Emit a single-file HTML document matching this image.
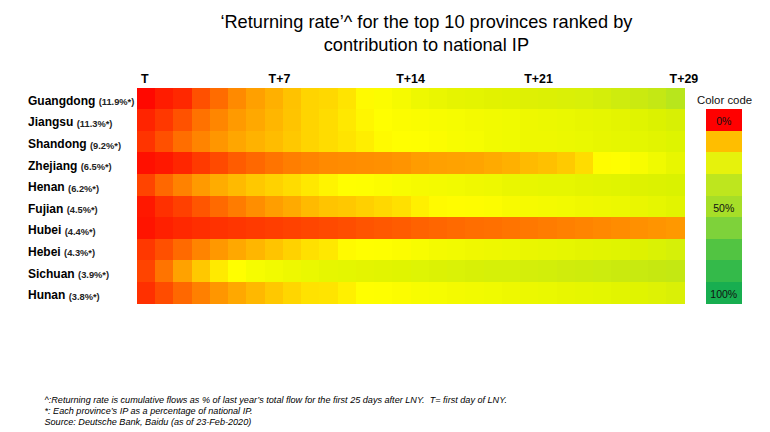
<!DOCTYPE html>
<html><head><meta charset="utf-8"><style>
html,body{margin:0;padding:0;background:#fff;}
body{width:770px;height:432px;position:relative;overflow:hidden;font-family:"Liberation Sans",Arial,sans-serif;}
.t{position:absolute;left:0;width:852px;text-align:center;font-size:18.2px;line-height:22.6px;color:#000;top:11px;padding-left:0.4px;}
.c{position:absolute;}
.lab{position:absolute;left:28px;height:21.58px;line-height:21.58px;font-size:12px;color:#000;white-space:nowrap;}
.lab b{font-weight:bold;}
.lab span{position:relative;top:0.5px;font-size:9.3px;font-weight:bold;color:#222;}
.lab sup{font-size:7px;vertical-align:2px;}
.hd{position:absolute;top:72.3px;font-size:12.4px;font-weight:bold;color:#000;}
.lg{position:absolute;left:706px;width:35.5px;height:21.98px;line-height:21.58px;text-align:center;font-size:10.5px;color:#111;padding-top:2px;box-sizing:border-box;}
.cc{position:absolute;left:697px;top:94px;font-size:11.4px;color:#111;}
.fn{position:absolute;left:44.5px;top:395.4px;font-size:9.1px;line-height:10.75px;font-style:italic;color:#000;white-space:nowrap;}
</style></head><body>
<div class="t">‘Returning rate’^ for the top 10 provinces ranked by<br>contribution to national IP</div>
<div class="hd" style="left:141px">T</div>
<div class="hd" style="left:268.6px">T+7</div>
<div class="hd" style="left:396.2px">T+14</div>
<div class="hd" style="left:524.2px">T+21</div>
<div class="hd" style="left:669.6px">T+29</div>
<div class="c" style="left:136.75px;top:87.60px;width:18.86px;height:22.18px;background:#FF0800"></div><div class="c" style="left:155.00px;top:87.60px;width:18.86px;height:22.18px;background:#FF1C00"></div><div class="c" style="left:173.26px;top:87.60px;width:18.86px;height:22.18px;background:#FF2800"></div><div class="c" style="left:191.51px;top:87.60px;width:18.86px;height:22.18px;background:#FF5000"></div><div class="c" style="left:209.77px;top:87.60px;width:18.86px;height:22.18px;background:#FF6C00"></div><div class="c" style="left:228.02px;top:87.60px;width:18.86px;height:22.18px;background:#FF8A00"></div><div class="c" style="left:246.28px;top:87.60px;width:18.86px;height:22.18px;background:#FFA000"></div><div class="c" style="left:264.53px;top:87.60px;width:18.86px;height:22.18px;background:#FFB000"></div><div class="c" style="left:282.79px;top:87.60px;width:18.86px;height:22.18px;background:#FFC200"></div><div class="c" style="left:301.04px;top:87.60px;width:18.86px;height:22.18px;background:#FFD400"></div><div class="c" style="left:319.30px;top:87.60px;width:18.86px;height:22.18px;background:#FFD800"></div><div class="c" style="left:337.55px;top:87.60px;width:18.86px;height:22.18px;background:#FFE400"></div><div class="c" style="left:355.81px;top:87.60px;width:18.86px;height:22.18px;background:#FFFA00"></div><div class="c" style="left:374.06px;top:87.60px;width:18.86px;height:22.18px;background:#FCFC00"></div><div class="c" style="left:392.32px;top:87.60px;width:18.86px;height:22.18px;background:#F6FA00"></div><div class="c" style="left:410.57px;top:87.60px;width:18.86px;height:22.18px;background:#EEF800"></div><div class="c" style="left:428.83px;top:87.60px;width:18.86px;height:22.18px;background:#EAF600"></div><div class="c" style="left:447.08px;top:87.60px;width:18.86px;height:22.18px;background:#E6F400"></div><div class="c" style="left:465.34px;top:87.60px;width:18.86px;height:22.18px;background:#E4F400"></div><div class="c" style="left:483.59px;top:87.60px;width:18.86px;height:22.18px;background:#E2F200"></div><div class="c" style="left:501.85px;top:87.60px;width:18.86px;height:22.18px;background:#E0F200"></div><div class="c" style="left:520.11px;top:87.60px;width:18.86px;height:22.18px;background:#DEF004"></div><div class="c" style="left:538.36px;top:87.60px;width:18.86px;height:22.18px;background:#DCF004"></div><div class="c" style="left:556.62px;top:87.60px;width:18.86px;height:22.18px;background:#DAF006"></div><div class="c" style="left:574.87px;top:87.60px;width:18.86px;height:22.18px;background:#D8F008"></div><div class="c" style="left:593.12px;top:87.60px;width:18.86px;height:22.18px;background:#D4EE0A"></div><div class="c" style="left:611.38px;top:87.60px;width:18.86px;height:22.18px;background:#CEEC0E"></div><div class="c" style="left:629.63px;top:87.60px;width:18.86px;height:22.18px;background:#CAEA10"></div><div class="c" style="left:647.89px;top:87.60px;width:18.86px;height:22.18px;background:#C4E814"></div><div class="c" style="left:666.14px;top:87.60px;width:18.55px;height:22.18px;background:#B8E61C"></div><div class="c" style="left:136.75px;top:109.18px;width:18.86px;height:22.18px;background:#FF2400"></div><div class="c" style="left:155.00px;top:109.18px;width:18.86px;height:22.18px;background:#FF3800"></div><div class="c" style="left:173.26px;top:109.18px;width:18.86px;height:22.18px;background:#FF5200"></div><div class="c" style="left:191.51px;top:109.18px;width:18.86px;height:22.18px;background:#FF7200"></div><div class="c" style="left:209.77px;top:109.18px;width:18.86px;height:22.18px;background:#FF8600"></div><div class="c" style="left:228.02px;top:109.18px;width:18.86px;height:22.18px;background:#FF9A00"></div><div class="c" style="left:246.28px;top:109.18px;width:18.86px;height:22.18px;background:#FFA800"></div><div class="c" style="left:264.53px;top:109.18px;width:18.86px;height:22.18px;background:#FFB600"></div><div class="c" style="left:282.79px;top:109.18px;width:18.86px;height:22.18px;background:#FFC400"></div><div class="c" style="left:301.04px;top:109.18px;width:18.86px;height:22.18px;background:#FFD400"></div><div class="c" style="left:319.30px;top:109.18px;width:18.86px;height:22.18px;background:#FFDC00"></div><div class="c" style="left:337.55px;top:109.18px;width:18.86px;height:22.18px;background:#FFE800"></div><div class="c" style="left:355.81px;top:109.18px;width:18.86px;height:22.18px;background:#FFF600"></div><div class="c" style="left:374.06px;top:109.18px;width:18.86px;height:22.18px;background:#FFFE00"></div><div class="c" style="left:392.32px;top:109.18px;width:18.86px;height:22.18px;background:#FCFC00"></div><div class="c" style="left:410.57px;top:109.18px;width:18.86px;height:22.18px;background:#FAFC00"></div><div class="c" style="left:428.83px;top:109.18px;width:18.86px;height:22.18px;background:#F8FC00"></div><div class="c" style="left:447.08px;top:109.18px;width:18.86px;height:22.18px;background:#F6FC00"></div><div class="c" style="left:465.34px;top:109.18px;width:18.86px;height:22.18px;background:#F4FA00"></div><div class="c" style="left:483.59px;top:109.18px;width:18.86px;height:22.18px;background:#F2FA00"></div><div class="c" style="left:501.85px;top:109.18px;width:18.86px;height:22.18px;background:#F0FA00"></div><div class="c" style="left:520.11px;top:109.18px;width:18.86px;height:22.18px;background:#EEF800"></div><div class="c" style="left:538.36px;top:109.18px;width:18.86px;height:22.18px;background:#ECF800"></div><div class="c" style="left:556.62px;top:109.18px;width:18.86px;height:22.18px;background:#EAF800"></div><div class="c" style="left:574.87px;top:109.18px;width:18.86px;height:22.18px;background:#E8F600"></div><div class="c" style="left:593.12px;top:109.18px;width:18.86px;height:22.18px;background:#E6F600"></div><div class="c" style="left:611.38px;top:109.18px;width:18.86px;height:22.18px;background:#E4F400"></div><div class="c" style="left:629.63px;top:109.18px;width:18.86px;height:22.18px;background:#E0F400"></div><div class="c" style="left:647.89px;top:109.18px;width:18.86px;height:22.18px;background:#DCF200"></div><div class="c" style="left:666.14px;top:109.18px;width:18.55px;height:22.18px;background:#D8F004"></div><div class="c" style="left:136.75px;top:130.76px;width:18.86px;height:22.18px;background:#FF3400"></div><div class="c" style="left:155.00px;top:130.76px;width:18.86px;height:22.18px;background:#FF5000"></div><div class="c" style="left:173.26px;top:130.76px;width:18.86px;height:22.18px;background:#FF6E00"></div><div class="c" style="left:191.51px;top:130.76px;width:18.86px;height:22.18px;background:#FF8400"></div><div class="c" style="left:209.77px;top:130.76px;width:18.86px;height:22.18px;background:#FF9600"></div><div class="c" style="left:228.02px;top:130.76px;width:18.86px;height:22.18px;background:#FFA600"></div><div class="c" style="left:246.28px;top:130.76px;width:18.86px;height:22.18px;background:#FFB200"></div><div class="c" style="left:264.53px;top:130.76px;width:18.86px;height:22.18px;background:#FFBC00"></div><div class="c" style="left:282.79px;top:130.76px;width:18.86px;height:22.18px;background:#FFC800"></div><div class="c" style="left:301.04px;top:130.76px;width:18.86px;height:22.18px;background:#FFD400"></div><div class="c" style="left:319.30px;top:130.76px;width:18.86px;height:22.18px;background:#FFDC00"></div><div class="c" style="left:337.55px;top:130.76px;width:18.86px;height:22.18px;background:#FFE400"></div><div class="c" style="left:355.81px;top:130.76px;width:18.86px;height:22.18px;background:#FFEE00"></div><div class="c" style="left:374.06px;top:130.76px;width:18.86px;height:22.18px;background:#FFFA00"></div><div class="c" style="left:392.32px;top:130.76px;width:18.86px;height:22.18px;background:#FFFE00"></div><div class="c" style="left:410.57px;top:130.76px;width:18.86px;height:22.18px;background:#FEFE00"></div><div class="c" style="left:428.83px;top:130.76px;width:18.86px;height:22.18px;background:#FCFC00"></div><div class="c" style="left:447.08px;top:130.76px;width:18.86px;height:22.18px;background:#F8FC00"></div><div class="c" style="left:465.34px;top:130.76px;width:18.86px;height:22.18px;background:#F6FC00"></div><div class="c" style="left:483.59px;top:130.76px;width:18.86px;height:22.18px;background:#F2FA00"></div><div class="c" style="left:501.85px;top:130.76px;width:18.86px;height:22.18px;background:#F0FA00"></div><div class="c" style="left:520.11px;top:130.76px;width:18.86px;height:22.18px;background:#EEF800"></div><div class="c" style="left:538.36px;top:130.76px;width:18.86px;height:22.18px;background:#EEF800"></div><div class="c" style="left:556.62px;top:130.76px;width:18.86px;height:22.18px;background:#ECF800"></div><div class="c" style="left:574.87px;top:130.76px;width:18.86px;height:22.18px;background:#EAF800"></div><div class="c" style="left:593.12px;top:130.76px;width:18.86px;height:22.18px;background:#E8F600"></div><div class="c" style="left:611.38px;top:130.76px;width:18.86px;height:22.18px;background:#E6F600"></div><div class="c" style="left:629.63px;top:130.76px;width:18.86px;height:22.18px;background:#E4F600"></div><div class="c" style="left:647.89px;top:130.76px;width:18.86px;height:22.18px;background:#E2F400"></div><div class="c" style="left:666.14px;top:130.76px;width:18.55px;height:22.18px;background:#DEF400"></div><div class="c" style="left:136.75px;top:152.34px;width:18.86px;height:22.18px;background:#FF1000"></div><div class="c" style="left:155.00px;top:152.34px;width:18.86px;height:22.18px;background:#FF1800"></div><div class="c" style="left:173.26px;top:152.34px;width:18.86px;height:22.18px;background:#FF2600"></div><div class="c" style="left:191.51px;top:152.34px;width:18.86px;height:22.18px;background:#FF3A00"></div><div class="c" style="left:209.77px;top:152.34px;width:18.86px;height:22.18px;background:#FF4A00"></div><div class="c" style="left:228.02px;top:152.34px;width:18.86px;height:22.18px;background:#FF5C00"></div><div class="c" style="left:246.28px;top:152.34px;width:18.86px;height:22.18px;background:#FF6800"></div><div class="c" style="left:264.53px;top:152.34px;width:18.86px;height:22.18px;background:#FF7400"></div><div class="c" style="left:282.79px;top:152.34px;width:18.86px;height:22.18px;background:#FF7E00"></div><div class="c" style="left:301.04px;top:152.34px;width:18.86px;height:22.18px;background:#FF8400"></div><div class="c" style="left:319.30px;top:152.34px;width:18.86px;height:22.18px;background:#FF8A00"></div><div class="c" style="left:337.55px;top:152.34px;width:18.86px;height:22.18px;background:#FF8C00"></div><div class="c" style="left:355.81px;top:152.34px;width:18.86px;height:22.18px;background:#FF8E00"></div><div class="c" style="left:374.06px;top:152.34px;width:18.86px;height:22.18px;background:#FF9000"></div><div class="c" style="left:392.32px;top:152.34px;width:18.86px;height:22.18px;background:#FF9400"></div><div class="c" style="left:410.57px;top:152.34px;width:18.86px;height:22.18px;background:#FF9C00"></div><div class="c" style="left:428.83px;top:152.34px;width:18.86px;height:22.18px;background:#FFA000"></div><div class="c" style="left:447.08px;top:152.34px;width:18.86px;height:22.18px;background:#FFA200"></div><div class="c" style="left:465.34px;top:152.34px;width:18.86px;height:22.18px;background:#FFA400"></div><div class="c" style="left:483.59px;top:152.34px;width:18.86px;height:22.18px;background:#FFAA00"></div><div class="c" style="left:501.85px;top:152.34px;width:18.86px;height:22.18px;background:#FFB000"></div><div class="c" style="left:520.11px;top:152.34px;width:18.86px;height:22.18px;background:#FFBA00"></div><div class="c" style="left:538.36px;top:152.34px;width:18.86px;height:22.18px;background:#FFC000"></div><div class="c" style="left:556.62px;top:152.34px;width:18.86px;height:22.18px;background:#FFCA00"></div><div class="c" style="left:574.87px;top:152.34px;width:18.86px;height:22.18px;background:#FFDC00"></div><div class="c" style="left:593.12px;top:152.34px;width:18.86px;height:22.18px;background:#FFFC00"></div><div class="c" style="left:611.38px;top:152.34px;width:18.86px;height:22.18px;background:#FEFE00"></div><div class="c" style="left:629.63px;top:152.34px;width:18.86px;height:22.18px;background:#F8FC00"></div><div class="c" style="left:647.89px;top:152.34px;width:18.86px;height:22.18px;background:#F0FA00"></div><div class="c" style="left:666.14px;top:152.34px;width:18.55px;height:22.18px;background:#E8F600"></div><div class="c" style="left:136.75px;top:173.92px;width:18.86px;height:22.18px;background:#FF4400"></div><div class="c" style="left:155.00px;top:173.92px;width:18.86px;height:22.18px;background:#FF6800"></div><div class="c" style="left:173.26px;top:173.92px;width:18.86px;height:22.18px;background:#FF8200"></div><div class="c" style="left:191.51px;top:173.92px;width:18.86px;height:22.18px;background:#FF9A00"></div><div class="c" style="left:209.77px;top:173.92px;width:18.86px;height:22.18px;background:#FFAC00"></div><div class="c" style="left:228.02px;top:173.92px;width:18.86px;height:22.18px;background:#FFBA00"></div><div class="c" style="left:246.28px;top:173.92px;width:18.86px;height:22.18px;background:#FFC800"></div><div class="c" style="left:264.53px;top:173.92px;width:18.86px;height:22.18px;background:#FFD200"></div><div class="c" style="left:282.79px;top:173.92px;width:18.86px;height:22.18px;background:#FFDC00"></div><div class="c" style="left:301.04px;top:173.92px;width:18.86px;height:22.18px;background:#FFE800"></div><div class="c" style="left:319.30px;top:173.92px;width:18.86px;height:22.18px;background:#FFF400"></div><div class="c" style="left:337.55px;top:173.92px;width:18.86px;height:22.18px;background:#FFFE00"></div><div class="c" style="left:355.81px;top:173.92px;width:18.86px;height:22.18px;background:#FEFE00"></div><div class="c" style="left:374.06px;top:173.92px;width:18.86px;height:22.18px;background:#FCFC00"></div><div class="c" style="left:392.32px;top:173.92px;width:18.86px;height:22.18px;background:#F8FC00"></div><div class="c" style="left:410.57px;top:173.92px;width:18.86px;height:22.18px;background:#F6FA00"></div><div class="c" style="left:428.83px;top:173.92px;width:18.86px;height:22.18px;background:#F4FA00"></div><div class="c" style="left:447.08px;top:173.92px;width:18.86px;height:22.18px;background:#F2FA00"></div><div class="c" style="left:465.34px;top:173.92px;width:18.86px;height:22.18px;background:#F0F800"></div><div class="c" style="left:483.59px;top:173.92px;width:18.86px;height:22.18px;background:#EEF800"></div><div class="c" style="left:501.85px;top:173.92px;width:18.86px;height:22.18px;background:#EAF600"></div><div class="c" style="left:520.11px;top:173.92px;width:18.86px;height:22.18px;background:#E8F600"></div><div class="c" style="left:538.36px;top:173.92px;width:18.86px;height:22.18px;background:#E6F600"></div><div class="c" style="left:556.62px;top:173.92px;width:18.86px;height:22.18px;background:#E6F600"></div><div class="c" style="left:574.87px;top:173.92px;width:18.86px;height:22.18px;background:#E4F400"></div><div class="c" style="left:593.12px;top:173.92px;width:18.86px;height:22.18px;background:#E2F400"></div><div class="c" style="left:611.38px;top:173.92px;width:18.86px;height:22.18px;background:#E0F400"></div><div class="c" style="left:629.63px;top:173.92px;width:18.86px;height:22.18px;background:#DEF200"></div><div class="c" style="left:647.89px;top:173.92px;width:18.86px;height:22.18px;background:#DCF200"></div><div class="c" style="left:666.14px;top:173.92px;width:18.55px;height:22.18px;background:#DAF200"></div><div class="c" style="left:136.75px;top:195.50px;width:18.86px;height:22.18px;background:#FF1800"></div><div class="c" style="left:155.00px;top:195.50px;width:18.86px;height:22.18px;background:#FF3000"></div><div class="c" style="left:173.26px;top:195.50px;width:18.86px;height:22.18px;background:#FF4000"></div><div class="c" style="left:191.51px;top:195.50px;width:18.86px;height:22.18px;background:#FF5600"></div><div class="c" style="left:209.77px;top:195.50px;width:18.86px;height:22.18px;background:#FF6A00"></div><div class="c" style="left:228.02px;top:195.50px;width:18.86px;height:22.18px;background:#FF7C00"></div><div class="c" style="left:246.28px;top:195.50px;width:18.86px;height:22.18px;background:#FF8E00"></div><div class="c" style="left:264.53px;top:195.50px;width:18.86px;height:22.18px;background:#FF9E00"></div><div class="c" style="left:282.79px;top:195.50px;width:18.86px;height:22.18px;background:#FFAA00"></div><div class="c" style="left:301.04px;top:195.50px;width:18.86px;height:22.18px;background:#FFBA00"></div><div class="c" style="left:319.30px;top:195.50px;width:18.86px;height:22.18px;background:#FFC400"></div><div class="c" style="left:337.55px;top:195.50px;width:18.86px;height:22.18px;background:#FFC800"></div><div class="c" style="left:355.81px;top:195.50px;width:18.86px;height:22.18px;background:#FFD000"></div><div class="c" style="left:374.06px;top:195.50px;width:18.86px;height:22.18px;background:#FFD800"></div><div class="c" style="left:392.32px;top:195.50px;width:18.86px;height:22.18px;background:#FFE000"></div><div class="c" style="left:410.57px;top:195.50px;width:18.86px;height:22.18px;background:#FFF000"></div><div class="c" style="left:428.83px;top:195.50px;width:18.86px;height:22.18px;background:#FFFA00"></div><div class="c" style="left:447.08px;top:195.50px;width:18.86px;height:22.18px;background:#FFFC00"></div><div class="c" style="left:465.34px;top:195.50px;width:18.86px;height:22.18px;background:#FEFC00"></div><div class="c" style="left:483.59px;top:195.50px;width:18.86px;height:22.18px;background:#FCFC00"></div><div class="c" style="left:501.85px;top:195.50px;width:18.86px;height:22.18px;background:#F8FA00"></div><div class="c" style="left:520.11px;top:195.50px;width:18.86px;height:22.18px;background:#F6FA00"></div><div class="c" style="left:538.36px;top:195.50px;width:18.86px;height:22.18px;background:#F4FA00"></div><div class="c" style="left:556.62px;top:195.50px;width:18.86px;height:22.18px;background:#F2FA00"></div><div class="c" style="left:574.87px;top:195.50px;width:18.86px;height:22.18px;background:#F0F800"></div><div class="c" style="left:593.12px;top:195.50px;width:18.86px;height:22.18px;background:#EEF800"></div><div class="c" style="left:611.38px;top:195.50px;width:18.86px;height:22.18px;background:#ECF800"></div><div class="c" style="left:629.63px;top:195.50px;width:18.86px;height:22.18px;background:#EAF600"></div><div class="c" style="left:647.89px;top:195.50px;width:18.86px;height:22.18px;background:#E6F600"></div><div class="c" style="left:666.14px;top:195.50px;width:18.55px;height:22.18px;background:#E2F400"></div><div class="c" style="left:136.75px;top:217.08px;width:18.86px;height:22.18px;background:#FF1400"></div><div class="c" style="left:155.00px;top:217.08px;width:18.86px;height:22.18px;background:#FF2000"></div><div class="c" style="left:173.26px;top:217.08px;width:18.86px;height:22.18px;background:#FF2800"></div><div class="c" style="left:191.51px;top:217.08px;width:18.86px;height:22.18px;background:#FF2E00"></div><div class="c" style="left:209.77px;top:217.08px;width:18.86px;height:22.18px;background:#FF3200"></div><div class="c" style="left:228.02px;top:217.08px;width:18.86px;height:22.18px;background:#FF3600"></div><div class="c" style="left:246.28px;top:217.08px;width:18.86px;height:22.18px;background:#FF3A00"></div><div class="c" style="left:264.53px;top:217.08px;width:18.86px;height:22.18px;background:#FF3E00"></div><div class="c" style="left:282.79px;top:217.08px;width:18.86px;height:22.18px;background:#FF4200"></div><div class="c" style="left:301.04px;top:217.08px;width:18.86px;height:22.18px;background:#FF4600"></div><div class="c" style="left:319.30px;top:217.08px;width:18.86px;height:22.18px;background:#FF4A00"></div><div class="c" style="left:337.55px;top:217.08px;width:18.86px;height:22.18px;background:#FF4E00"></div><div class="c" style="left:355.81px;top:217.08px;width:18.86px;height:22.18px;background:#FF5400"></div><div class="c" style="left:374.06px;top:217.08px;width:18.86px;height:22.18px;background:#FF5800"></div><div class="c" style="left:392.32px;top:217.08px;width:18.86px;height:22.18px;background:#FF5C00"></div><div class="c" style="left:410.57px;top:217.08px;width:18.86px;height:22.18px;background:#FF6200"></div><div class="c" style="left:428.83px;top:217.08px;width:18.86px;height:22.18px;background:#FF6600"></div><div class="c" style="left:447.08px;top:217.08px;width:18.86px;height:22.18px;background:#FF6A00"></div><div class="c" style="left:465.34px;top:217.08px;width:18.86px;height:22.18px;background:#FF6E00"></div><div class="c" style="left:483.59px;top:217.08px;width:18.86px;height:22.18px;background:#FF7000"></div><div class="c" style="left:501.85px;top:217.08px;width:18.86px;height:22.18px;background:#FF7400"></div><div class="c" style="left:520.11px;top:217.08px;width:18.86px;height:22.18px;background:#FF7800"></div><div class="c" style="left:538.36px;top:217.08px;width:18.86px;height:22.18px;background:#FF7C00"></div><div class="c" style="left:556.62px;top:217.08px;width:18.86px;height:22.18px;background:#FF8000"></div><div class="c" style="left:574.87px;top:217.08px;width:18.86px;height:22.18px;background:#FF8400"></div><div class="c" style="left:593.12px;top:217.08px;width:18.86px;height:22.18px;background:#FF8800"></div><div class="c" style="left:611.38px;top:217.08px;width:18.86px;height:22.18px;background:#FF8C00"></div><div class="c" style="left:629.63px;top:217.08px;width:18.86px;height:22.18px;background:#FF9000"></div><div class="c" style="left:647.89px;top:217.08px;width:18.86px;height:22.18px;background:#FF9400"></div><div class="c" style="left:666.14px;top:217.08px;width:18.55px;height:22.18px;background:#FF9800"></div><div class="c" style="left:136.75px;top:238.66px;width:18.86px;height:22.18px;background:#FF3800"></div><div class="c" style="left:155.00px;top:238.66px;width:18.86px;height:22.18px;background:#FF5000"></div><div class="c" style="left:173.26px;top:238.66px;width:18.86px;height:22.18px;background:#FF6A00"></div><div class="c" style="left:191.51px;top:238.66px;width:18.86px;height:22.18px;background:#FF8400"></div><div class="c" style="left:209.77px;top:238.66px;width:18.86px;height:22.18px;background:#FF9800"></div><div class="c" style="left:228.02px;top:238.66px;width:18.86px;height:22.18px;background:#FFA800"></div><div class="c" style="left:246.28px;top:238.66px;width:18.86px;height:22.18px;background:#FFB600"></div><div class="c" style="left:264.53px;top:238.66px;width:18.86px;height:22.18px;background:#FFC400"></div><div class="c" style="left:282.79px;top:238.66px;width:18.86px;height:22.18px;background:#FFD200"></div><div class="c" style="left:301.04px;top:238.66px;width:18.86px;height:22.18px;background:#FFE000"></div><div class="c" style="left:319.30px;top:238.66px;width:18.86px;height:22.18px;background:#FFE800"></div><div class="c" style="left:337.55px;top:238.66px;width:18.86px;height:22.18px;background:#FFFA00"></div><div class="c" style="left:355.81px;top:238.66px;width:18.86px;height:22.18px;background:#FFFE00"></div><div class="c" style="left:374.06px;top:238.66px;width:18.86px;height:22.18px;background:#FEFE00"></div><div class="c" style="left:392.32px;top:238.66px;width:18.86px;height:22.18px;background:#FCFC00"></div><div class="c" style="left:410.57px;top:238.66px;width:18.86px;height:22.18px;background:#F8FC00"></div><div class="c" style="left:428.83px;top:238.66px;width:18.86px;height:22.18px;background:#F4FA00"></div><div class="c" style="left:447.08px;top:238.66px;width:18.86px;height:22.18px;background:#F2FA00"></div><div class="c" style="left:465.34px;top:238.66px;width:18.86px;height:22.18px;background:#F0F800"></div><div class="c" style="left:483.59px;top:238.66px;width:18.86px;height:22.18px;background:#EEF800"></div><div class="c" style="left:501.85px;top:238.66px;width:18.86px;height:22.18px;background:#ECF800"></div><div class="c" style="left:520.11px;top:238.66px;width:18.86px;height:22.18px;background:#EAF600"></div><div class="c" style="left:538.36px;top:238.66px;width:18.86px;height:22.18px;background:#E8F600"></div><div class="c" style="left:556.62px;top:238.66px;width:18.86px;height:22.18px;background:#E6F600"></div><div class="c" style="left:574.87px;top:238.66px;width:18.86px;height:22.18px;background:#E4F400"></div><div class="c" style="left:593.12px;top:238.66px;width:18.86px;height:22.18px;background:#E2F400"></div><div class="c" style="left:611.38px;top:238.66px;width:18.86px;height:22.18px;background:#E0F400"></div><div class="c" style="left:629.63px;top:238.66px;width:18.86px;height:22.18px;background:#DEF200"></div><div class="c" style="left:647.89px;top:238.66px;width:18.86px;height:22.18px;background:#DAF204"></div><div class="c" style="left:666.14px;top:238.66px;width:18.55px;height:22.18px;background:#D6F008"></div><div class="c" style="left:136.75px;top:260.24px;width:18.86px;height:22.18px;background:#FF4400"></div><div class="c" style="left:155.00px;top:260.24px;width:18.86px;height:22.18px;background:#FF7400"></div><div class="c" style="left:173.26px;top:260.24px;width:18.86px;height:22.18px;background:#FFA200"></div><div class="c" style="left:191.51px;top:260.24px;width:18.86px;height:22.18px;background:#FFC800"></div><div class="c" style="left:209.77px;top:260.24px;width:18.86px;height:22.18px;background:#FFEA00"></div><div class="c" style="left:228.02px;top:260.24px;width:18.86px;height:22.18px;background:#FFFE00"></div><div class="c" style="left:246.28px;top:260.24px;width:18.86px;height:22.18px;background:#F6FC00"></div><div class="c" style="left:264.53px;top:260.24px;width:18.86px;height:22.18px;background:#F2FA00"></div><div class="c" style="left:282.79px;top:260.24px;width:18.86px;height:22.18px;background:#EEF800"></div><div class="c" style="left:301.04px;top:260.24px;width:18.86px;height:22.18px;background:#EAF800"></div><div class="c" style="left:319.30px;top:260.24px;width:18.86px;height:22.18px;background:#E6F600"></div><div class="c" style="left:337.55px;top:260.24px;width:18.86px;height:22.18px;background:#E4F600"></div><div class="c" style="left:355.81px;top:260.24px;width:18.86px;height:22.18px;background:#E4F400"></div><div class="c" style="left:374.06px;top:260.24px;width:18.86px;height:22.18px;background:#E2F400"></div><div class="c" style="left:392.32px;top:260.24px;width:18.86px;height:22.18px;background:#E0F400"></div><div class="c" style="left:410.57px;top:260.24px;width:18.86px;height:22.18px;background:#DEF404"></div><div class="c" style="left:428.83px;top:260.24px;width:18.86px;height:22.18px;background:#DCF204"></div><div class="c" style="left:447.08px;top:260.24px;width:18.86px;height:22.18px;background:#DAF206"></div><div class="c" style="left:465.34px;top:260.24px;width:18.86px;height:22.18px;background:#D8F006"></div><div class="c" style="left:483.59px;top:260.24px;width:18.86px;height:22.18px;background:#D6F008"></div><div class="c" style="left:501.85px;top:260.24px;width:18.86px;height:22.18px;background:#D6F008"></div><div class="c" style="left:520.11px;top:260.24px;width:18.86px;height:22.18px;background:#D4EE0A"></div><div class="c" style="left:538.36px;top:260.24px;width:18.86px;height:22.18px;background:#D2EE0A"></div><div class="c" style="left:556.62px;top:260.24px;width:18.86px;height:22.18px;background:#D0EC0C"></div><div class="c" style="left:574.87px;top:260.24px;width:18.86px;height:22.18px;background:#CEEC0C"></div><div class="c" style="left:593.12px;top:260.24px;width:18.86px;height:22.18px;background:#CCEC0E"></div><div class="c" style="left:611.38px;top:260.24px;width:18.86px;height:22.18px;background:#CAEA0E"></div><div class="c" style="left:629.63px;top:260.24px;width:18.86px;height:22.18px;background:#C8EA10"></div><div class="c" style="left:647.89px;top:260.24px;width:18.86px;height:22.18px;background:#C6E810"></div><div class="c" style="left:666.14px;top:260.24px;width:18.55px;height:22.18px;background:#C4E812"></div><div class="c" style="left:136.75px;top:281.82px;width:18.86px;height:22.18px;background:#FF3000"></div><div class="c" style="left:155.00px;top:281.82px;width:18.86px;height:22.18px;background:#FF4C00"></div><div class="c" style="left:173.26px;top:281.82px;width:18.86px;height:22.18px;background:#FF6800"></div><div class="c" style="left:191.51px;top:281.82px;width:18.86px;height:22.18px;background:#FF8000"></div><div class="c" style="left:209.77px;top:281.82px;width:18.86px;height:22.18px;background:#FF9600"></div><div class="c" style="left:228.02px;top:281.82px;width:18.86px;height:22.18px;background:#FFA800"></div><div class="c" style="left:246.28px;top:281.82px;width:18.86px;height:22.18px;background:#FFB800"></div><div class="c" style="left:264.53px;top:281.82px;width:18.86px;height:22.18px;background:#FFC800"></div><div class="c" style="left:282.79px;top:281.82px;width:18.86px;height:22.18px;background:#FFD600"></div><div class="c" style="left:301.04px;top:281.82px;width:18.86px;height:22.18px;background:#FFE200"></div><div class="c" style="left:319.30px;top:281.82px;width:18.86px;height:22.18px;background:#FFE400"></div><div class="c" style="left:337.55px;top:281.82px;width:18.86px;height:22.18px;background:#FFF000"></div><div class="c" style="left:355.81px;top:281.82px;width:18.86px;height:22.18px;background:#FFFE00"></div><div class="c" style="left:374.06px;top:281.82px;width:18.86px;height:22.18px;background:#FEFE00"></div><div class="c" style="left:392.32px;top:281.82px;width:18.86px;height:22.18px;background:#FCFC00"></div><div class="c" style="left:410.57px;top:281.82px;width:18.86px;height:22.18px;background:#F8FC00"></div><div class="c" style="left:428.83px;top:281.82px;width:18.86px;height:22.18px;background:#F6FC00"></div><div class="c" style="left:447.08px;top:281.82px;width:18.86px;height:22.18px;background:#F4FA00"></div><div class="c" style="left:465.34px;top:281.82px;width:18.86px;height:22.18px;background:#F2FA00"></div><div class="c" style="left:483.59px;top:281.82px;width:18.86px;height:22.18px;background:#F0FA00"></div><div class="c" style="left:501.85px;top:281.82px;width:18.86px;height:22.18px;background:#EEF800"></div><div class="c" style="left:520.11px;top:281.82px;width:18.86px;height:22.18px;background:#ECF800"></div><div class="c" style="left:538.36px;top:281.82px;width:18.86px;height:22.18px;background:#EAF800"></div><div class="c" style="left:556.62px;top:281.82px;width:18.86px;height:22.18px;background:#E8F600"></div><div class="c" style="left:574.87px;top:281.82px;width:18.86px;height:22.18px;background:#E6F600"></div><div class="c" style="left:593.12px;top:281.82px;width:18.86px;height:22.18px;background:#E4F600"></div><div class="c" style="left:611.38px;top:281.82px;width:18.86px;height:22.18px;background:#E2F400"></div><div class="c" style="left:629.63px;top:281.82px;width:18.86px;height:22.18px;background:#E0F400"></div><div class="c" style="left:647.89px;top:281.82px;width:18.86px;height:22.18px;background:#DEF204"></div><div class="c" style="left:666.14px;top:281.82px;width:18.55px;height:22.18px;background:#DAF006"></div>
<div class="lab" style="top:90.90px"><b>Guangdong</b> <span>(11.9%*)</span></div><div class="lab" style="top:112.48px"><b>Jiangsu</b> <span>(11.3%*)</span></div><div class="lab" style="top:134.06px"><b>Shandong</b> <span>(9.2%*)</span></div><div class="lab" style="top:155.64px"><b>Zhejiang</b> <span>(6.5%*)</span></div><div class="lab" style="top:177.22px"><b>Henan</b> <span>(6.2%*)</span></div><div class="lab" style="top:198.80px"><b>Fujian</b> <span>(4.5%*)</span></div><div class="lab" style="top:220.38px"><b>Hubei</b> <span>(4.4%*)</span></div><div class="lab" style="top:241.96px"><b>Hebei</b> <span>(4.3%*)</span></div><div class="lab" style="top:263.54px"><b>Sichuan</b> <span>(3.9%*)</span></div><div class="lab" style="top:285.12px"><b>Hunan</b> <span>(3.8%*)</span></div>
<div class="cc">Color code</div>
<div class="lg" style="top:109.18px;background:#FF0000">0%</div><div class="lg" style="top:130.76px;background:#FFBE00"></div><div class="lg" style="top:152.34px;background:#E6F20C"></div><div class="lg" style="top:173.92px;background:#BEE61E"></div><div class="lg" style="top:195.50px;background:#A6DE28">50%</div><div class="lg" style="top:217.08px;background:#7ED23A"></div><div class="lg" style="top:238.66px;background:#52C442"></div><div class="lg" style="top:260.24px;background:#34BA4A"></div><div class="lg" style="top:281.82px;background:#18AE50">100%</div>
<div class="fn">^:Returning rate is cumulative flows as % of last year’s total flow for the first 25 days after LNY.&nbsp; T= first day of LNY.<br>*: Each province’s IP as a percentage of national IP.<br>Source: Deutsche Bank, Baidu (as of 23-Feb-2020)</div>
</body></html>
